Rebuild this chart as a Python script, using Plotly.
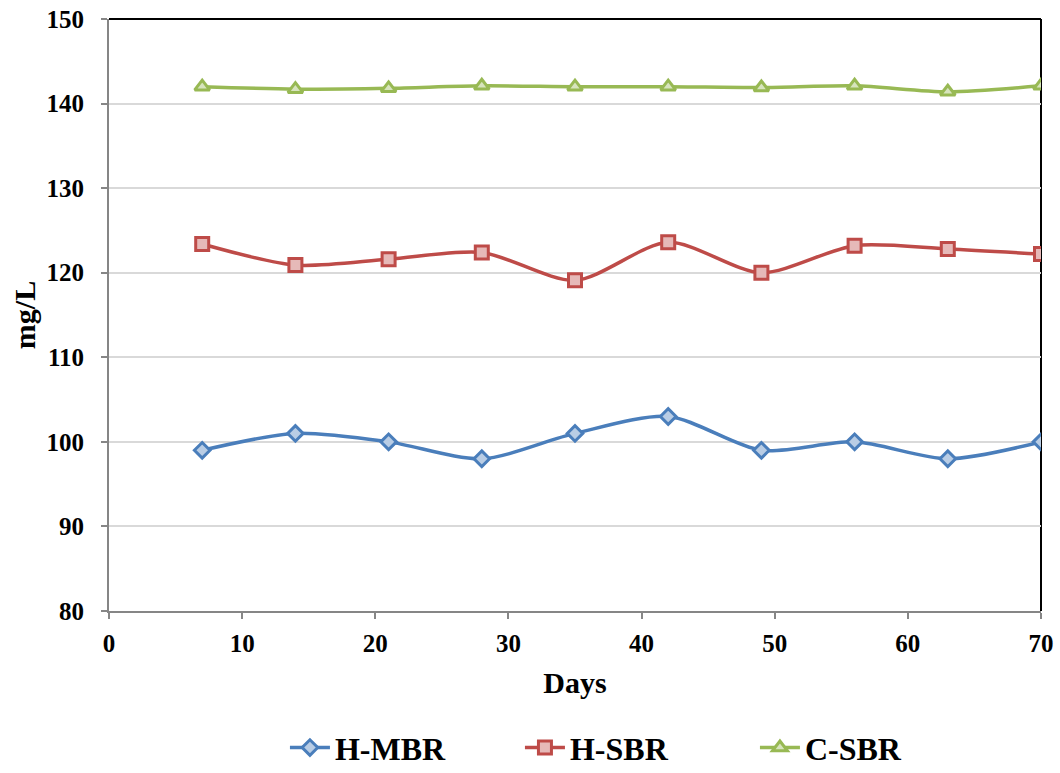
import plotly.graph_objects as go

# Sampling days and measured concentrations (mg/L)
days = [7, 14, 21, 28, 35, 42, 49, 56, 63, 70]
h_mbr = [99.0, 101.0, 100.0, 98.0, 101.0, 103.0, 99.0, 100.0, 98.0, 100.0]
h_sbr = [123.4, 120.9, 121.6, 122.4, 119.1, 123.6, 120.0, 123.2, 122.8, 122.2]
c_sbr = [142.0, 141.7, 141.8, 142.1, 142.0, 142.0, 141.9, 142.1, 141.4, 142.1]

x_ticks = [0, 10, 20, 30, 40, 50, 60, 70]
y_ticks = [80, 90, 100, 110, 120, 130, 140, 150]

FONT = "Liberation Serif"

series = [
    ("H-MBR", h_mbr, "#4a7ebb", "#b9cde5", "diamond", 12),
    ("H-SBR", h_sbr, "#be4b48", "#e6b9b8", "square", 13),
    ("C-SBR", c_sbr, "#98b954", "#d7e4bd", "triangle-up", 13),
]

fig = go.Figure()
for name, vals, line_col, fill_col, sym, size in series:
    fig.add_trace(go.Scatter(
        x=days, y=vals, name=name, mode="lines+markers",
        line=dict(color=line_col, width=3.5, shape="spline", smoothing=0.8),
        marker=dict(symbol=sym, size=size, color=fill_col,
                    line=dict(color=line_col, width=3)),
    ))

axis_grey = "#868686"

fig.update_layout(
    width=1060, height=773,
    margin=dict(l=109, r=19, t=19, b=162, autoexpand=False),
    paper_bgcolor="white", plot_bgcolor="white",
    font=dict(family=FONT, color="black"),
    showlegend=True,
    legend=dict(
        orientation="h", x=0.567, xanchor="center", y=-0.231, yanchor="middle",
        font=dict(family=FONT, size=32, color="black", weight="bold"),
        itemwidth=40, entrywidth=180, entrywidthmode="pixels", tracegroupgap=0,
    ),
    xaxis=dict(
        range=[0, 70], tickvals=x_ticks, ticktext=[str(v) for v in x_ticks],
        showgrid=False, zeroline=False, automargin=False,
        showline=True, linecolor=axis_grey, linewidth=2,
        ticks="outside", ticklen=6, tickcolor=axis_grey, tickwidth=2,
        ticklabelstandoff=3,
        tickfont=dict(family=FONT, size=25, color="black", weight="bold"),
        title=dict(text="Days", standoff=16,
                   font=dict(family=FONT, size=30, color="black", weight="bold")),
    ),
    yaxis=dict(
        range=[80, 150], tickvals=y_ticks, ticktext=[str(v) for v in y_ticks],
        showgrid=True, gridcolor="#d9d9d9", gridwidth=1.5, zeroline=False,
        automargin=False,
        showline=True, linecolor=axis_grey, linewidth=2,
        ticks="outside", ticklen=6, tickcolor=axis_grey, tickwidth=2,
        ticklabelstandoff=12,
        tickfont=dict(family=FONT, size=25, color="black", weight="bold"),
        title=dict(text="mg/L", standoff=2,
                   font=dict(family=FONT, size=30, color="black", weight="bold")),
    ),
    shapes=[
        dict(type="line", xref="paper", yref="paper", x0=0, x1=1, y0=1, y1=1,
             line=dict(color="black", width=2), layer="below"),
        dict(type="line", xref="paper", yref="paper", x0=1, x1=1, y0=0, y1=1,
             line=dict(color="black", width=2), layer="below"),
    ],
)

fig.write_html("out.html")
